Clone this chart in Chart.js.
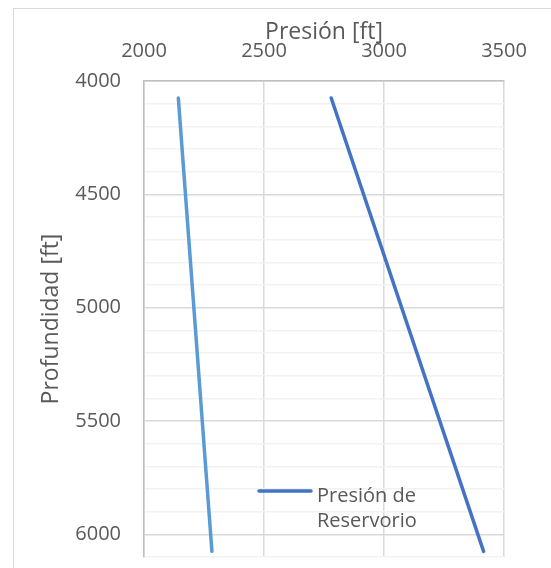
<!DOCTYPE html>
<html>
<head>
<meta charset="utf-8">
<script src="https://cdn.jsdelivr.net/npm/chart.js@4"></script>
<style>
  body { margin: 0; background: #fff; }
  #frame { position: absolute; left: 13px; top: 8px; width: 600px; height: 600px;
           border-left: 1px solid #d9d9d9; border-top: 1px solid #d9d9d9; }
  #wrap { position: absolute; left: 0; top: 0; width: 551px; height: 568px; }
</style>
</head>
<body>
<div id="frame"></div>
<div id="wrap"><canvas id="grafico" width="551" height="568"></canvas></div>
<script>
// profundidad [ft] de los extremos de cada recta
const profundidad = [4075, 6075];
// presion [psi]
const presionSerie1 = [2143, 2283];
const presionReservorio = [2780, 3415];
const serieLabels = ['Serie 1', 'Presión de Reservorio'];
const xTicks = [2000, 2500, 3000, 3500];
const yTicks = [4000, 4500, 5000, 5500, 6000];

const textColor = '#595959';
const FONT = '"Open Sans", sans-serif';

function puntos(xs, ys) {
  return xs.map((x, i) => ({ x: x, y: ys[i] }));
}

// leyenda dentro del area de trazado
const leyenda = {
  id: 'leyenda',
  afterDraw(chart) {
    const ds = chart.data.datasets[1];
    const c = chart.ctx;
    c.save();
    c.strokeStyle = ds.borderColor;
    c.lineWidth = 3.5;
    c.lineCap = 'round';
    c.beginPath();
    c.moveTo(259, 491);
    c.lineTo(311, 491);
    c.stroke();
    c.fillStyle = textColor;
    c.font = '20px ' + FONT;
    c.textBaseline = 'alphabetic';
    const partes = ds.label.split(' ');
    c.fillText(partes.slice(0, 2).join(' '), 317, 502);
    c.fillText(partes.slice(2).join(' '), 317, 527);
    c.restore();
  }
};

const ctx = document.getElementById('grafico').getContext('2d');
new Chart(ctx, {
  type: 'scatter',
  data: {
    datasets: [
      {
        label: serieLabels[0],
        data: puntos(presionSerie1, profundidad),
        borderColor: '#5B9BD5',
        backgroundColor: '#5B9BD5',
        showLine: true,
        borderWidth: 3.5,
        borderCapStyle: 'round',
        pointRadius: 0
      },
      {
        label: serieLabels[1],
        data: puntos(presionReservorio, profundidad),
        borderColor: '#4472C4',
        backgroundColor: '#4472C4',
        showLine: true,
        borderWidth: 3.5,
        borderCapStyle: 'round',
        pointRadius: 0
      }
    ]
  },
  options: {
    responsive: false,
    animation: false,
    layout: { padding: { left: 0, top: 0, right: 47, bottom: 11 } },
    scales: {
      x: {
        type: 'linear',
        position: 'top',
        min: xTicks[0],
        max: xTicks[xTicks.length - 1],
        afterFit: (s) => { s.height = 81; s.paddingLeft = 0; s.paddingRight = 0; },
        afterBuildTicks: (s) => { s.ticks = xTicks.map(v => ({ value: v })); },
        ticks: {
          color: textColor,
          font: { family: FONT, size: 20 },
          padding: 18,
          callback: (v) => String(v)
        },
        grid: { color: '#d9d9d9', lineWidth: 1.5, drawTicks: false },
        border: { color: '#bfbfbf', width: 1.5 },
        title: {
          display: true,
          text: 'Presión [ft]',
          color: textColor,
          font: { family: FONT, size: 23 },
          padding: { top: 19, bottom: 0 }
        }
      },
      y: {
        type: 'linear',
        reverse: true,
        min: 4000,
        max: 6100,
        afterFit: (s) => { s.width = 144; s.paddingTop = 0; s.paddingBottom = 0; },
        ticks: {
          stepSize: 100,
          color: textColor,
          font: { family: FONT, size: 20 },
          padding: 23,
          autoSkip: false,
          callback: (v) => yTicks.includes(v) ? String(v) : ''
        },
        grid: {
          drawTicks: false,
          color: (c) => yTicks.includes(c.tick.value) ? '#d9d9d9' : '#f2f2f2',
          lineWidth: 1.5
        },
        border: { color: '#bfbfbf', width: 1.5 },
        title: {
          display: true,
          text: 'Profundidad [ft]',
          color: textColor,
          font: { family: FONT, size: 23 },
          padding: { top: 38, bottom: 0 }
        }
      }
    },
    plugins: {
      legend: { display: false },
      tooltip: { enabled: false }
    }
  },
  plugins: [leyenda]
});
</script>
</body>
</html>
